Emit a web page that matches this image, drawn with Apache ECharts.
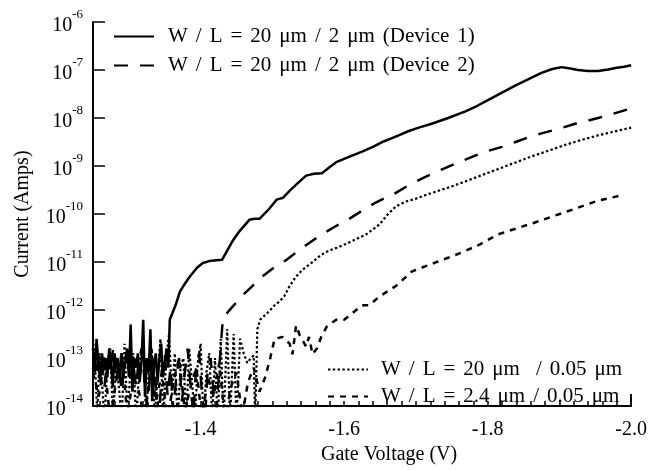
<!DOCTYPE html>
<html>
<head>
<meta charset="utf-8">
<script src="https://cdn.jsdelivr.net/npm/echarts@6/dist/echarts.min.js"></script>
<style>
html, body { margin: 0; padding: 0; background: #fff; }
#chart { width: 650px; height: 470px; }
</style>
</head>
<body>
<div id="chart"></div>
<script>
// series names (legend text)
const names = [
  'W / L = 20 μm / 2 μm (Device 1)',
  'W / L = 20 μm / 2 μm (Device 2)',
  'W / L = 20 μm  / 0.05 μm',
  'W / L = 2.4 μm / 0.05 μm'
]

// gate voltage (V) and log10(current in A)
const dev1V = [-1.2500, -1.2525, -1.2550, -1.2575, -1.2600, -1.2625, -1.2650, -1.2675, -1.2700, -1.2725,
  -1.2750, -1.2775, -1.2800, -1.2825, -1.2850, -1.2875, -1.2900, -1.2925, -1.2950, -1.2975,
  -1.3000, -1.3025, -1.3050, -1.3075, -1.3100, -1.3125, -1.3150, -1.3175, -1.3200, -1.3225,
  -1.3250, -1.3275, -1.3300, -1.3325, -1.3350, -1.3375, -1.3400, -1.3425, -1.3450, -1.3475,
  -1.3500, -1.3525, -1.3550,
  -1.357, -1.365, -1.371, -1.378, -1.385, -1.395, -1.403, -1.412, -1.422, -1.430,
  -1.437, -1.445, -1.454, -1.468, -1.475, -1.482, -1.495, -1.506, -1.515, -1.525,
  -1.535, -1.547, -1.558, -1.569, -1.580, -1.589, -1.605, -1.625, -1.640, -1.653,
  -1.665, -1.676, -1.690, -1.704, -1.722, -1.745, -1.769, -1.785, -1.801, -1.820,
  -1.839, -1.857, -1.875, -1.890, -1.903, -1.915, -1.926, -1.940, -1.954, -1.968,
  -1.978, -1.990, -2.000]
const dev1Log = [-12.8, -13.3, -12.6, -13.1, -13.5, -12.9, -13.2, -13.0, -13.4, -12.8,
  -13.1, -13.6, -12.9, -13.2, -13.0, -13.5, -12.9, -13.3, -13.1, -12.8,
  -13.4, -12.3, -13.7, -13.0, -13.2, -12.9, -13.5, -13.1, -12.2, -13.8,
  -13.0, -13.3, -12.4, -13.9, -13.2, -12.9, -13.5, -13.0, -12.7, -13.4,
  -13.1, -12.8, -13.2,
  -12.2, -11.9, -11.62, -11.45, -11.3, -11.12, -11.02, -10.98, -10.96, -10.95,
  -10.76, -10.55, -10.36, -10.12, -10.1, -10.1, -9.9, -9.7, -9.66, -9.5,
  -9.36, -9.2, -9.16, -9.15, -9.02, -8.92, -8.82, -8.7, -8.6, -8.5,
  -8.43, -8.36, -8.27, -8.2, -8.12, -8.0, -7.86, -7.75, -7.62, -7.47,
  -7.32, -7.19, -7.06, -6.98, -6.94, -6.97, -7.0, -7.02, -7.02, -6.99,
  -6.96, -6.93, -6.9]

const dev2V = [-1.250, -1.254, -1.258, -1.262, -1.266, -1.270, -1.274, -1.278, -1.282, -1.286,
  -1.290, -1.294, -1.298, -1.302, -1.306, -1.310, -1.314, -1.318, -1.322, -1.326,
  -1.330, -1.334, -1.338, -1.342, -1.346, -1.350, -1.354, -1.358, -1.362, -1.366,
  -1.370, -1.374, -1.378, -1.382, -1.386, -1.390, -1.394, -1.398, -1.402, -1.406,
  -1.410, -1.414, -1.418, -1.422, -1.426,
  -1.431, -1.445, -1.458, -1.472, -1.486, -1.500, -1.519, -1.540, -1.565, -1.585,
  -1.607, -1.625, -1.644, -1.672, -1.690, -1.714, -1.735, -1.760, -1.780, -1.797,
  -1.820, -1.839, -1.857, -1.875, -1.900, -1.922, -1.954, -1.975, -2.000]
const dev2Log = [-13.0, -13.4, -12.9, -13.2, -13.6, -13.0, -13.3, -12.8, -13.5, -13.1,
  -13.7, -13.0, -12.9, -13.4, -13.1, -13.6, -13.0, -12.8, -13.5, -14.0,
  -13.2, -13.0, -13.7, -14.2, -13.3, -12.9, -13.8, -13.2, -14.1, -13.4,
  -13.0, -13.9, -13.3, -12.8, -13.6, -14.2, -13.1, -12.9, -13.8, -14.3,
  -13.2, -13.0, -13.7, -14.1, -13.2,
  -12.16, -11.92, -11.7, -11.5, -11.3, -11.14, -10.96, -10.72, -10.46, -10.28,
  -10.1, -9.93, -9.76, -9.56, -9.4, -9.22, -9.08, -8.92, -8.8, -8.7,
  -8.6, -8.5, -8.4, -8.32, -8.22, -8.12, -8.0, -7.91, -7.8]

const dev3V = [-1.250, -1.253, -1.256, -1.259, -1.262, -1.266, -1.270, -1.274, -1.278, -1.282,
  -1.286, -1.290, -1.294, -1.298, -1.302, -1.306, -1.310, -1.315, -1.320, -1.324,
  -1.328, -1.332, -1.336, -1.340, -1.344, -1.348, -1.352, -1.356, -1.360, -1.364,
  -1.368, -1.372, -1.376, -1.380, -1.384, -1.388, -1.392, -1.396, -1.400, -1.404,
  -1.408, -1.412, -1.416, -1.420, -1.424, -1.428, -1.432, -1.437, -1.441, -1.446,
  -1.450, -1.455, -1.460, -1.465, -1.470, -1.474, -1.476, -1.479, -1.483, -1.490,
  -1.496, -1.503, -1.510, -1.517, -1.524, -1.533, -1.542, -1.556, -1.567, -1.579,
  -1.590, -1.603, -1.617, -1.631, -1.649, -1.660, -1.672, -1.686, -1.700, -1.718,
  -1.745, -1.769, -1.790, -1.815, -1.840, -1.861, -1.885, -1.908, -1.930, -1.954,
  -1.977, -2.000]
const dev3Log = [-12.6, -13.2, -14.2, -12.9, -13.4, -14.3, -13.1, -12.8, -14.3, -13.0,
  -13.6, -14.3, -12.7, -14.2, -13.3, -12.9, -14.3, -13.1, -12.6, -14.3,
  -13.2, -12.8, -14.2, -13.4, -12.6, -14.3, -13.0, -12.5, -13.8, -12.9,
  -14.3, -13.2, -13.0, -14.3, -12.8, -13.5, -14.3, -13.1, -12.7, -14.3,
  -13.3, -12.9, -14.2, -13.0, -14.3, -12.6, -14.3, -12.4, -14.3, -12.5,
  -14.3, -12.6, -12.9, -13.1, -13.0, -12.95, -14.3, -12.4, -12.2, -12.1,
  -12.02, -11.9, -11.82, -11.7, -11.5, -11.3, -11.16, -11.0, -10.86, -10.76,
  -10.7, -10.62, -10.52, -10.42, -10.22, -10.02, -9.84, -9.74, -9.68, -9.58,
  -9.45, -9.32, -9.2, -9.06, -8.92, -8.8, -8.68, -8.56, -8.46, -8.36,
  -8.28, -8.2]

const dev4V = [-1.250, -1.258, -1.266, -1.274, -1.282, -1.290, -1.298, -1.306, -1.314, -1.322,
  -1.330, -1.338, -1.346, -1.354, -1.362, -1.370, -1.378, -1.386, -1.394, -1.402,
  -1.410, -1.418, -1.426, -1.434, -1.442, -1.450, -1.458, -1.466, -1.474, -1.482,
  -1.490, -1.497,
  -1.503, -1.514, -1.524, -1.528, -1.533, -1.538, -1.547, -1.551, -1.556, -1.562,
  -1.568, -1.576, -1.589, -1.600, -1.625, -1.635, -1.649, -1.672, -1.694, -1.718,
  -1.736, -1.764, -1.788, -1.815, -1.861, -1.908, -1.954, -1.990]
const dev4Log = [-13.3, -13.8, -13.1, -14.3, -13.5, -12.9, -14.2, -13.4, -13.7, -14.3,
  -13.2, -13.9, -13.3, -14.3, -13.5, -13.0, -14.1, -13.6, -13.2, -14.3,
  -13.4, -13.8, -13.1, -14.3, -13.6, -13.3, -14.2, -13.5, -13.2, -13.7,
  -13.4, -13.0,
  -12.6, -12.56, -12.7, -12.92, -12.32, -12.52, -12.76, -12.56, -12.92, -12.8,
  -12.56, -12.34, -12.2, -12.2, -11.9, -11.9, -11.72, -11.5, -11.2, -11.06,
  -10.96, -10.8, -10.64, -10.42, -10.2, -9.96, -9.72, -9.6]

// axis ticks
const xLabels = [-2.0, -1.8, -1.6, -1.4]
const xMinorTicks = []
for (let k = 0; k <= 37; k++) xMinorTicks.push(+(-2.0 + k * 0.02).toFixed(2))
const yExps = [-14, -13, -12, -11, -10, -9, -8, -7, -6]
const yTicks = yExps.map(e => Math.pow(10, e))

const font = 'Liberation Serif'

function toPoints(v, lg) {
  return v.map((x, i) => [x, Math.pow(10, lg[i])])
}

function lineSeries(name, v, lg, width, type) {
  return {
    name: name,
    type: 'line',
    data: toPoints(v, lg),
    symbol: 'none',
    clip: true,
    itemStyle: { color: '#000' },
    lineStyle: { color: '#000', width: width, type: type, cap: 'butt' }
  }
}

// legend text: the figure's font sets words a little further apart
function legendText(name) {
  return name.split(' ').map(w => '{t|' + w + '}').join('{sp| }')
}
const legendRich = {
  t: { fontFamily: font, fontSize: 21, color: '#000', lineHeight: 22 },
  sp: { fontFamily: font, fontSize: 21, color: '#000', lineHeight: 22, width: 8 }
}

const chart = echarts.init(document.getElementById('chart'))
chart.setOption({
  animation: false,
  backgroundColor: '#fff',
  grid: { left: 93, right: 17, top: 22, bottom: 48 },
  legend: [
    {
      data: [names[0], names[1]],
      orient: 'vertical',
      left: 113,
      top: 26,
      padding: 0,
      itemWidth: 40,
      itemHeight: 14,
      itemGap: 8,
      itemStyle: { opacity: 0 },
      formatter: legendText,
      textStyle: { padding: [0, 0, 0, 9], rich: legendRich }
    },
    {
      data: [names[2], names[3]],
      orient: 'vertical',
      left: 327,
      top: 359,
      padding: 0,
      itemWidth: 40,
      itemHeight: 14,
      itemGap: 6,
      itemStyle: { opacity: 0 },
      formatter: legendText,
      textStyle: { padding: [0, 0, 0, 8], rich: legendRich }
    }
  ],
  xAxis: [
    {
      type: 'value',
      min: -2.0,
      max: -1.25,
      inverse: true,
      name: 'Gate Voltage (V)',
      nameLocation: 'middle',
      nameGap: 32,
      nameTextStyle: { fontFamily: font, fontSize: 20, color: '#000', padding: [0, 0, 0, 54] },
      axisLine: { lineStyle: { color: '#000', width: 2 } },
      axisTick: { inside: true, length: 5, customValues: xMinorTicks, lineStyle: { color: '#000', width: 1.5 } },
      axisLabel: {
        customValues: xLabels,
        margin: 14,
        fontFamily: font,
        fontSize: 20,
        color: '#000',
        formatter: v => v.toFixed(1)
      },
      splitLine: { show: false }
    },
    {
      type: 'value',
      min: -2.0,
      max: -1.25,
      inverse: true,
      position: 'bottom',
      axisLine: { show: false },
      axisTick: { inside: true, length: 12, customValues: [-2.0], lineStyle: { color: '#000', width: 2 } },
      axisLabel: { show: false },
      splitLine: { show: false }
    }
  ],
  yAxis: {
    type: 'log',
    logBase: 10,
    min: 1e-14,
    max: 1e-6,
    name: 'Current (Amps)',
    nameLocation: 'middle',
    nameGap: 60,
    nameTextStyle: { fontFamily: font, fontSize: 20, color: '#000' },
    axisLine: { show: true, lineStyle: { color: '#000', width: 2 } },
    axisTick: { inside: true, length: 12, customValues: yTicks, lineStyle: { color: '#000', width: 1.5 } },
    axisLabel: {
      customValues: yTicks,
      margin: 10,
      formatter: v => '{b|10}{s|' + Math.round(Math.log10(v)) + '}',
      rich: {
        b: { fontFamily: font, fontSize: 20, color: '#000', lineHeight: 28, verticalAlign: 'bottom' },
        s: { fontFamily: font, fontSize: 13, color: '#000', lineHeight: 20, verticalAlign: 'top' }
      }
    },
    splitLine: { show: false }
  },
  series: [
    lineSeries(names[0], dev1V, dev1Log, 2.5, 'solid'),
    lineSeries(names[1], dev2V, dev2Log, 2.5, [14, 12]),
    lineSeries(names[2], dev3V, dev3Log, 2.2, [2.4, 2.4]),
    lineSeries(names[3], dev4V, dev4Log, 2.5, [6, 6])
  ]
})
</script>
</body>
</html>
